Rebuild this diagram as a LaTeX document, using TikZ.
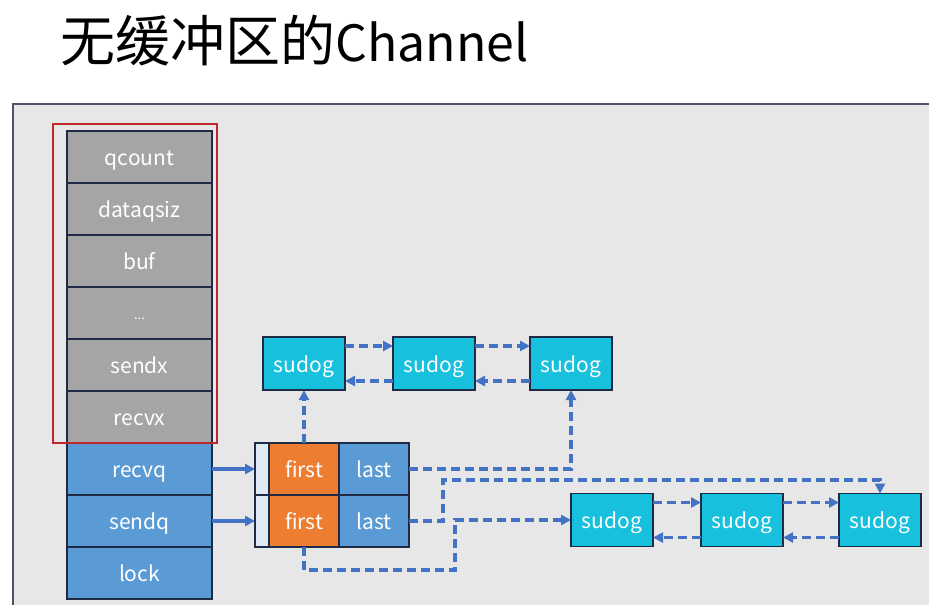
\documentclass[tikz,border=0pt]{standalone}
\usepackage{fontspec}
\newfontfamily\cjk{Noto Sans CJK SC}
\usetikzlibrary{positioning,arrows.meta}

\definecolor{panel}{HTML}{E7E7E7}
\definecolor{fieldgray}{HTML}{A5A5A5}
\definecolor{fieldblue}{HTML}{5B9BD5}
\definecolor{firstorange}{HTML}{ED7D31}
\definecolor{headlight}{HTML}{DEEBF7}
\definecolor{sudogcyan}{HTML}{17C0DC}
\definecolor{edgedark}{HTML}{1F2A44}
\definecolor{linkblue}{HTML}{4472C4}
\definecolor{framered}{HTML}{C0272D}

\begin{document}
\begin{tikzpicture}[x=1pt,y=-1pt,>={Triangle[length=10pt,width=10pt]},
    box/.style={rectangle,draw=edgedark,line width=1.3pt,inner sep=0pt,outer sep=0pt,
                text=white,text height=17pt,text depth=0pt,
                font=\cjk\fontsize{21}{25}\selectfont},
    field node/.style={box,fill=fieldgray,minimum width=145pt,minimum height=52pt},
    queue node/.style={box,fill=fieldblue,minimum width=145pt,minimum height=52pt},
    head node/.style={box,fill=headlight,minimum width=14pt,minimum height=52pt},
    first node/.style={box,fill=firstorange,minimum width=70pt,minimum height=52pt},
    last node/.style={box,fill=fieldblue,minimum width=70pt,minimum height=52pt},
    sudog node/.style={box,fill=sudogcyan,minimum width=82pt,minimum height=53pt},
    link/.style={draw=linkblue,line width=3.5pt,dash pattern=on 9pt off 5pt},
    feed/.style={draw=linkblue,line width=3.5pt}]

    \clip (0,0) rectangle (929,605);
    \fill[white] (0,0) rectangle (929,605);
    \draw[fill=panel,draw=edgedark!80,line width=1.2pt] (13,104) rectangle (945,620);

    \node[font=\cjk\fontsize{55}{66}\selectfont,anchor=west,inner sep=0pt] (title) at (60,41)
        {无缓冲区的{\fontsize{50}{60}\selectfont Channel}};

    % hchan fields
    \node[field node] (qcount) at (139.5,157) {qcount};
    \node[field node,below=0pt of qcount] (dataqsiz) {dataqsiz};
    \node[field node,below=0pt of dataqsiz] (buf) {buf};
    \node[field node,below=0pt of buf,font=\cjk\fontsize{13}{15}\selectfont,text height=12pt] (more) {...};
    \node[field node,below=0pt of more] (sendx) {sendx};
    \node[field node,below=0pt of sendx] (recvx) {recvx};
    \node[queue node,below=0pt of recvx] (recvq) {recvq};
    \node[queue node,below=0pt of recvq] (sendq) {sendq};
    \node[queue node,below=0pt of sendq] (lock) {lock};

    \draw[framered,line width=1.2pt] ([xshift=-14pt,yshift=7pt]qcount.north west)
        rectangle ([xshift=5pt]recvx.south east);

    % waitq
    \node[head node] (rhead) at (262,469) {};
    \node[first node,right=0pt of rhead] (rfirst) {first};
    \node[last node,right=0pt of rfirst] (rlast) {last};
    \node[head node,below=0pt of rhead] (shead) {};
    \node[first node,right=0pt of shead] (sfirst) {first};
    \node[last node,right=0pt of sfirst] (slast) {last};

    % sudog lists
    \node[sudog node] (sa) at (304,363.5) {sudog};
    \node[sudog node,right=48pt of sa] (sb) {sudog};
    \node[sudog node,right=55pt of sb] (sc) {sudog};
    \node[sudog node] (sd) at (612,520) {sudog};
    \node[sudog node,right=48pt of sd] (se) {sudog};
    \node[sudog node,right=56pt of se] (sf) {sudog};

    \foreach \a/\b in {sa/sb,sb/sc,sd/se,se/sf} {
        \draw[link,->] ([yshift=-9pt]\a.north east) -- ([yshift=-9pt]\b.north west);
        \draw[link,->] ([yshift=9pt]\b.south west) -- ([yshift=9pt]\a.south east);
    }

    \draw[feed,->] (recvq.east) -- (rhead.west);
    \draw[feed,->] (sendq.east) -- (shead.west);

    \draw[link,->] (rfirst.north) -- (sa.south);
    \draw[link,->] (rlast.east) -| (sc.south);
    \draw[link,->] (slast.east) -- ++(34,0) -- ++(0,-41) -| (sf.north);
    \draw[link,->] (sfirst.south) -- ++(0,23) -| ([xshift=-116pt]sd.west) -- (sd.west);
\end{tikzpicture}
\end{document}
